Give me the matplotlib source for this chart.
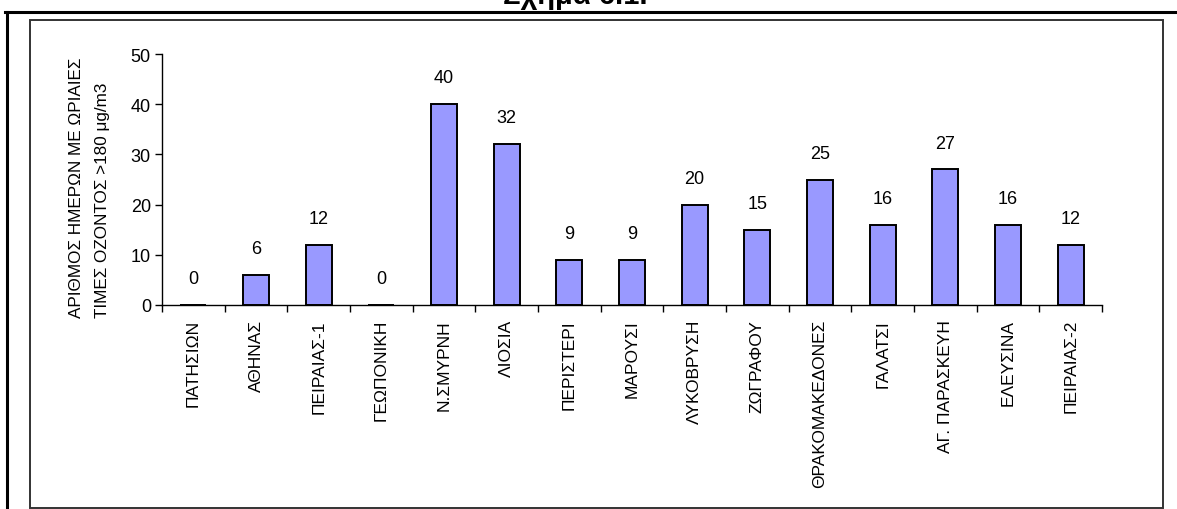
import matplotlib
matplotlib.use("Agg")
import matplotlib.pyplot as plt
from matplotlib.lines import Line2D
from matplotlib.patches import Rectangle

plt.rcParams['font.family'] = ['Liberation Sans', 'DejaVu Sans']

stations = ["ΠΑΤΗΣΙΩΝ", "ΑΘΗΝΑΣ", "ΠΕΙΡΑΙΑΣ-1", "ΓΕΩΠΟΝΙΚΗ", "Ν.ΣΜΥΡΝΗ",
            "ΛΙΟΣΙΑ", "ΠΕΡΙΣΤΕΡΙ", "ΜΑΡΟΥΣΙ", "ΛΥΚΟΒΡΥΣΗ", "ΖΩΓΡΑΦΟΥ",
            "ΘΡΑΚΟΜΑΚΕΔΟΝΕΣ", "ΓΑΛΑΤΣΙ", "ΑΓ. ΠΑΡΑΣΚΕΥΗ", "ΕΛΕΥΣΙΝΑ", "ΠΕΙΡΑΙΑΣ-2"]
days_over_180 = [0, 6, 12, 0, 40, 32, 9, 9, 20, 15, 25, 16, 27, 16, 12]
y_ticks = [0, 10, 20, 30, 40, 50]

W, H = 1177, 510
fig = plt.figure(figsize=(W / 100, H / 100), dpi=100)

# Page decorations: heading, ruled line, frames
fig.text(575 / W, 1 - 4 / H, "Σχήμα 6.1.", ha='center', va='baseline',
         fontsize=21, fontweight='bold')
fig.add_artist(Line2D([5 / W, 1.0], [1 - 12.5 / H] * 2, color='black', lw=2.2))
fig.add_artist(Line2D([6.7 / W] * 2, [1 - 12.5 / H, 0], color='black', lw=2.2))
fig.add_artist(Rectangle((30 / W, 1 - 509 / H), (1163 - 30) / W, (509 - 20.5) / H,
                         fill=False, edgecolor='#333333', lw=1.4))

ax = fig.add_axes([162 / W, 1 - 306 / H, (1102 - 162) / W, (306 - 55) / H])
x = list(range(len(stations)))
bars = ax.bar(x, days_over_180, width=0.42, color='#9999FF',
              edgecolor='black', linewidth=1.4)
for xi, v in zip(x, days_over_180):
    ax.annotate(str(v), (xi, v), xytext=(0, 19), textcoords='offset points',
                ha='center', va='center', fontsize=13)

ax.set_xlim(-0.5, len(stations) - 0.5)
ax.set_ylim(0, 50)
ax.set_yticks(y_ticks)
ax.tick_params(axis='y', direction='out', length=5, width=1, labelsize=13, pad=3)

# category boundaries carry the ticks, labels sit at the centres
ax.set_xticks([i - 0.5 for i in range(len(stations) + 1)])
ax.set_xticklabels([])
ax.tick_params(axis='x', direction='out', length=5, width=1)
for xi, name in zip(x, stations):
    ax.text(xi, -2.8, name, rotation=90, ha='center', va='top', fontsize=12.5,
            transform=ax.transData)

for s in ('top', 'right'):
    ax.spines[s].set_visible(False)
for s in ('left', 'bottom'):
    ax.spines[s].set_linewidth(1)

fig.text(77 / W, 1 - 318 / H, "ΑΡΙΘΜΟΣ ΗΜΕΡΩΝ ΜΕ ΩΡΙΑΙΕΣ", rotation=90,
         ha='center', va='bottom', fontsize=12.3)
fig.text(102 / W, 1 - 318 / H, "ΤΙΜΕΣ ΟΖΟΝΤΟΣ >180 μg/m3", rotation=90,
         ha='center', va='bottom', fontsize=12.3)

fig.savefig("out.png", dpi=100)
